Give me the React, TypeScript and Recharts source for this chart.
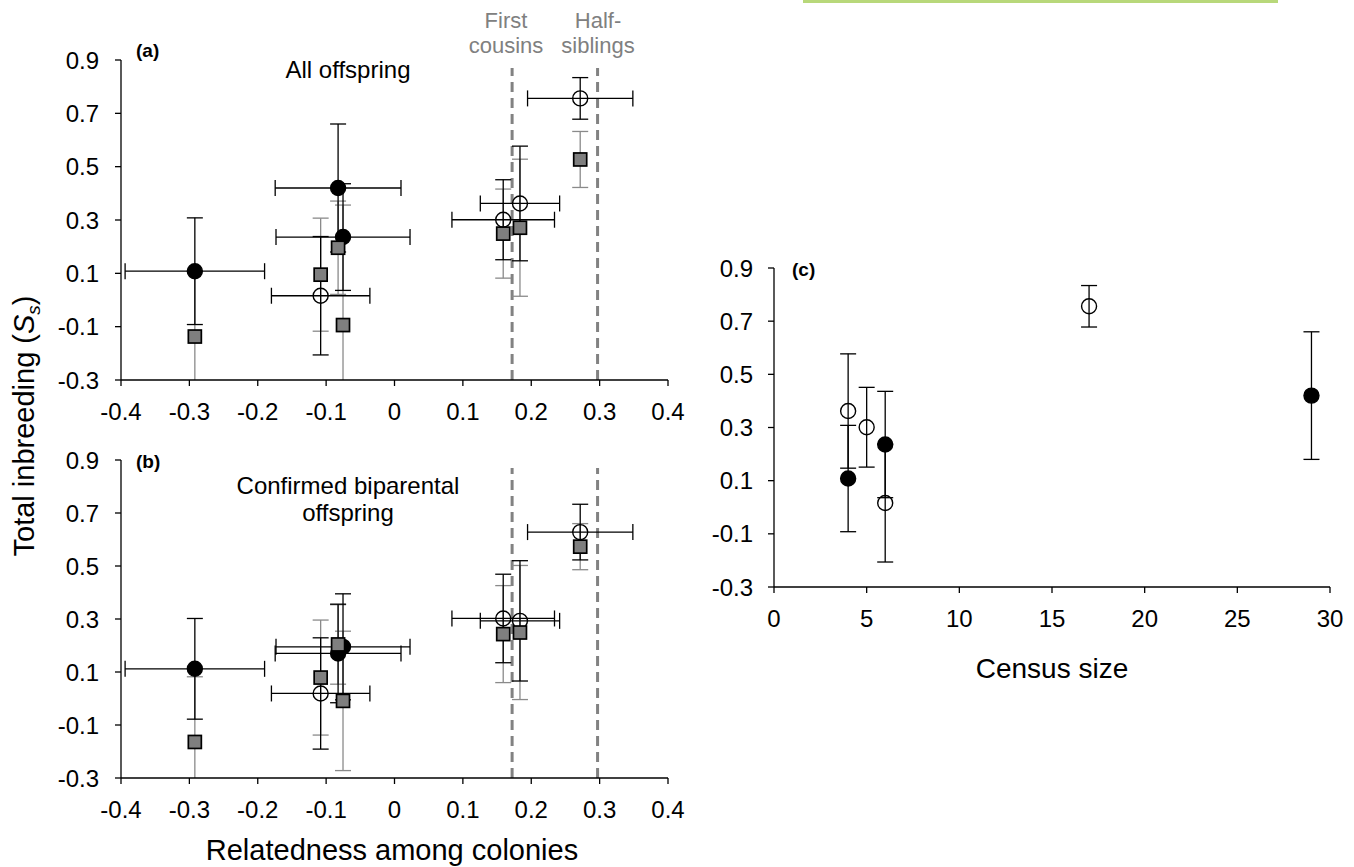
import React from 'react';
import { ScatterChart, Scatter, XAxis, YAxis, ErrorBar, ReferenceLine } from 'recharts';

// one entry per colony, same order in every array
const relatedness = [-0.292, -0.0825, -0.0753, -0.108, 0.159, 0.1835, 0.2716];
const relatednessErr = [0.102, 0.092, 0.098, 0.072, 0.075, 0.058, 0.077];
const censusSize = [4, 29, 6, 6, 5, 4, 17];
const filledColony = [true, true, true, false, false, false, false];

// (a) all offspring
const allInbreeding = [0.108, 0.42, 0.236, 0.016, 0.301, 0.362, 0.756];
const allInbreedingErr = [0.2, 0.24, 0.2, 0.222, 0.15, 0.215, 0.078];
const allGray = [-0.137, 0.196, -0.094, 0.095, 0.249, 0.271, 0.527];
const allGrayErr = [0.245, 0.175, 0.45, 0.212, 0.167, 0.257, 0.105];

// (b) confirmed biparental offspring
const biInbreeding = [0.112, 0.17, 0.195, 0.019, 0.302, 0.293, 0.628];
const biInbreedingErr = [0.19, 0.186, 0.2, 0.21, 0.167, 0.227, 0.105];
const biGray = [-0.164, 0.204, -0.009, 0.079, 0.243, 0.249, 0.573];
const biGrayErr = [0.246, 0.15, 0.263, 0.217, 0.183, 0.253, 0.087];

const relatednessTicks = [-0.4, -0.3, -0.2, -0.1, 0, 0.1, 0.2, 0.3, 0.4];
const inbreedingTicks = [-0.3, -0.1, 0.1, 0.3, 0.5, 0.7, 0.9];
const censusTicks = [0, 5, 10, 15, 20, 25, 30];

const firstCousins = 0.172;
const halfSiblings = 0.297;
const guideTop = 0.87;

const FONT = '"Liberation Sans", Arial, sans-serif';
const GRAY_BAR = '#8a8a8a';

const circleRows = (ys: number[], errs: number[]) =>
  relatedness.map((x, i) => ({ x, y: ys[i], ex: relatednessErr[i], ey: errs[i], filled: filledColony[i] }));
const squareRows = (ys: number[], errs: number[]) =>
  relatedness.map((x, i) => ({ x, y: ys[i], ey: errs[i] }));

const circlesA = circleRows(allInbreeding, allInbreedingErr);
const squaresA = squareRows(allGray, allGrayErr);
const circlesB = circleRows(biInbreeding, biInbreedingErr);
const squaresB = squareRows(biGray, biGrayErr);
const censusRows = censusSize.map((x, i) => ({
  x,
  y: allInbreeding[i],
  ey: allInbreedingErr[i],
  filled: filledColony[i],
}));

const CircleDot = (props: any) => (
  <circle
    cx={props.cx}
    cy={props.cy}
    r={7.5}
    fill={props.payload.filled ? '#000' : 'none'}
    stroke='#000'
    strokeWidth={1.4}
  />
);
const SquareDot = (props: any) => (
  <rect x={props.cx - 6.5} y={props.cy - 6.5} width={13} height={13} fill='#7f7f7f' stroke='#000' strokeWidth={1.7} />
);
const NoDot = () => <g />;

const fmt = (v: number) => (v === 0 ? '0' : String(Math.round(v * 10) / 10));
const tickStyle = { fill: '#000', fontSize: 24, fontFamily: FONT };
const lineStyle = { stroke: '#000', strokeWidth: 1.3 };

// error bars below the x axis are cut off, as in the original
const clipCss = `
.panel-a [class*="recharts-errorBar"] { clip-path: url(#plotClipA); }
.panel-b [class*="recharts-errorBar"] { clip-path: url(#plotClipB); }
`;

type PanelProps = {
  top: number;
  bottomMargin: number;
  className: string;
  circles: any[];
  squares: any[];
};

function RelatednessPanel({ top, bottomMargin, className, circles, squares }: PanelProps) {
  return (
    <div className={className} style={{ position: 'absolute', left: 0, top, width: 700, height: 440 }}>
      <ScatterChart width={700} height={440} margin={{ top: 60, right: 32, bottom: bottomMargin, left: 61 }}>
        <XAxis
          type='number'
          dataKey='x'
          domain={[-0.4, 0.4]}
          ticks={relatednessTicks}
          tickFormatter={fmt}
          allowDataOverflow
          tick={tickStyle}
          tickLine={lineStyle}
          axisLine={lineStyle}
          tickSize={6}
          tickMargin={17}
          height={30}
        />
        <YAxis
          type='number'
          dataKey='y'
          domain={[-0.3, 0.9]}
          ticks={inbreedingTicks}
          tickFormatter={fmt}
          allowDataOverflow
          tick={tickStyle}
          tickLine={lineStyle}
          axisLine={lineStyle}
          tickSize={6}
          tickMargin={16}
          width={60}
        />
        <ReferenceLine
          segment={[{ x: firstCousins, y: -0.3 }, { x: firstCousins, y: guideTop }]}
          stroke='#828282'
          strokeWidth={3}
          strokeDasharray='10 6'
        />
        <ReferenceLine
          segment={[{ x: halfSiblings, y: -0.3 }, { x: halfSiblings, y: guideTop }]}
          stroke='#828282'
          strokeWidth={3}
          strokeDasharray='10 6'
        />
        <Scatter data={squares} shape={NoDot} isAnimationActive={false}>
          <ErrorBar dataKey='ey' direction='y' width={8} stroke={GRAY_BAR} strokeWidth={1.3} isAnimationActive={false} />
        </Scatter>
        <Scatter data={circles} shape={CircleDot} isAnimationActive={false}>
          <ErrorBar dataKey='ey' direction='y' width={8} stroke='#000' strokeWidth={1.3} isAnimationActive={false} />
          <ErrorBar dataKey='ex' direction='x' width={8} stroke='#000' strokeWidth={1.3} isAnimationActive={false} />
        </Scatter>
        <Scatter data={squares} shape={SquareDot} isAnimationActive={false} />
      </ScatterChart>
    </div>
  );
}

function CensusPanel() {
  return (
    <div style={{ position: 'absolute', left: 700, top: 200, width: 654, height: 460 }}>
      <ScatterChart width={654} height={460} margin={{ top: 68, right: 24, bottom: 43, left: 14 }}>
        <XAxis
          type='number'
          dataKey='x'
          domain={[0, 30]}
          ticks={censusTicks}
          allowDataOverflow
          tick={tickStyle}
          tickLine={lineStyle}
          axisLine={lineStyle}
          tickSize={6}
          tickMargin={17}
          height={30}
        />
        <YAxis
          type='number'
          dataKey='y'
          domain={[-0.3, 0.9]}
          ticks={inbreedingTicks}
          tickFormatter={fmt}
          allowDataOverflow
          tick={tickStyle}
          tickLine={lineStyle}
          axisLine={lineStyle}
          tickSize={6}
          tickMargin={15}
          width={60}
        />
        <Scatter data={censusRows} shape={CircleDot} isAnimationActive={false}>
          <ErrorBar dataKey='ey' direction='y' width={8} stroke='#000' strokeWidth={1.3} isAnimationActive={false} />
        </Scatter>
      </ScatterChart>
    </div>
  );
}

export default function App() {
  return (
    <div style={{ position: 'absolute', left: 0, top: 0, width: 1354, height: 867, background: '#fff', overflow: 'hidden' }}>
      <style>{clipCss}</style>
      <svg width={0} height={0} style={{ position: 'absolute' }}>
        <defs>
          <clipPath id='plotClipA' clipPathUnits='userSpaceOnUse'>
            <rect x={0} y={0} width={700} height={380} />
          </clipPath>
          <clipPath id='plotClipB' clipPathUnits='userSpaceOnUse'>
            <rect x={0} y={0} width={700} height={378} />
          </clipPath>
        </defs>
      </svg>
      <div style={{ position: 'absolute', left: 803, top: 0, width: 475, height: 3, background: '#b8d87a' }} />
      <RelatednessPanel top={0} bottomMargin={30} className='panel-a' circles={circlesA} squares={squaresA} />
      <RelatednessPanel top={400} bottomMargin={32} className='panel-b' circles={circlesB} squares={squaresB} />
      <CensusPanel />
      <svg
        width={1354}
        height={867}
        style={{ position: 'absolute', left: 0, top: 0, pointerEvents: 'none' }}
        fontFamily={FONT}
      >
        <text x={136} y={57} fontSize={19} fontWeight='bold'>(a)</text>
        <text x={136} y={468} fontSize={19} fontWeight='bold'>(b)</text>
        <text x={792} y={276} fontSize={19} fontWeight='bold'>(c)</text>
        <text x={348} y={78} fontSize={24} textAnchor='middle'>All offspring</text>
        <text x={348} y={494} fontSize={24} textAnchor='middle'>Confirmed biparental</text>
        <text x={348} y={521} fontSize={24} textAnchor='middle'>offspring</text>
        <g fill='#808080' fontSize={22} textAnchor='middle'>
          <text x={506} y={28}>First</text>
          <text x={506} y={53}>cousins</text>
          <text x={598} y={28}>Half-</text>
          <text x={598} y={53}>siblings</text>
        </g>
        <text x={392} y={860} fontSize={29} textAnchor='middle'>Relatedness among colonies</text>
        <text x={1052} y={678} fontSize={28} textAnchor='middle'>Census size</text>
        <text transform='translate(34,426) rotate(-90)' fontSize={29} textAnchor='middle'>
          Total inbreeding (<tspan fontStyle='italic'>S</tspan>
          <tspan fontStyle='italic' fontSize={19} dy={6}>s</tspan>
          <tspan dy={-6}>)</tspan>
        </text>
      </svg>
    </div>
  );
}
